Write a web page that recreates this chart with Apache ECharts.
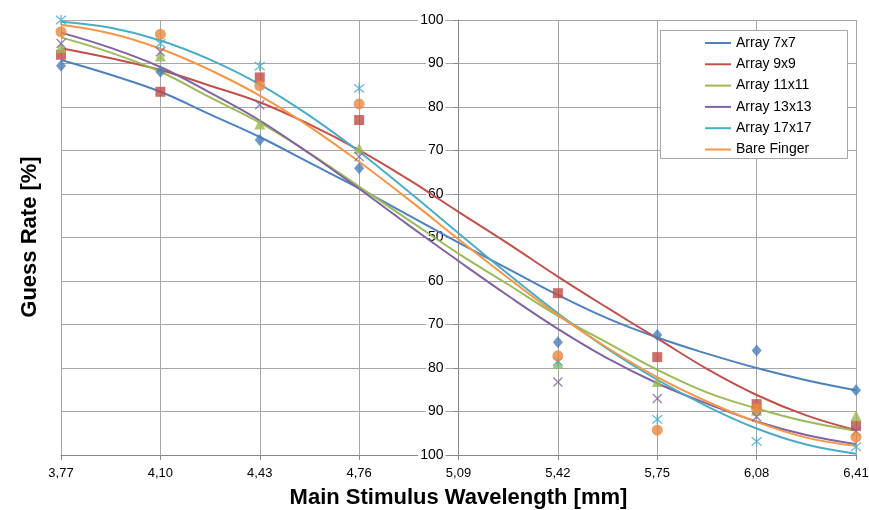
<!DOCTYPE html>
<html>
<head>
<meta charset="utf-8">
<script src="https://cdn.jsdelivr.net/npm/echarts@6/dist/echarts.min.js"></script>
<style>
  html, body { margin: 0; padding: 0; background: #fff; }
  #chart { width: 869px; height: 510px; }
</style>
</head>
<body>
<div id="chart"></div>
<script>
// wavelength ticks (x) and guess rate ticks (y, mirrored around 50)
var xTickLabels = ['3,77', '4,10', '4,43', '4,76', '5,09', '5,42', '5,75', '6,08', '6,41'];
var yTickLabels = ['100', '90', '80', '70', '60', '50', '60', '70', '80', '90', '100'];
var names = ['Array 7x7', 'Array 9x9', 'Array 11x11', 'Array 13x13', 'Array 17x17', 'Bare Finger'];
var colors = ['#4F81BD', '#C0504D', '#9BBB59', '#8064A2', '#4BACC6', '#F79646'];
var markerColors = ['#4A7EBB', '#BE4B48', '#98B954', '#7D60A0', '#46AAC5', '#E8883E'];

// measured points, one per wavelength tick (nothing measured at 5,09)
var pts7 = [89.5, 88.1, 72.4, 65.9, null, 25.9, 27.6, 24.0, 14.9];
var pts9 = [92.0, 83.5, 86.8, 77.0, null, 37.2, 22.5, 11.7, 6.7];
var pts11 = [93.7, 91.7, 76.1, 70.5, null, 21.1, 16.9, 10.3, 9.0];
var pts13 = [94.6, 92.7, 80.5, 68.6, null, 16.8, 13.0, 8.8, 5.4];
var pts17 = [100, 94.6, 89.4, 84.3, null, 21.5, 8.2, 3.1, 1.9];
var ptsBare = [97.3, 96.7, 84.9, 80.7, null, 22.8, 5.7, 10.7, 4.1];

// fitted curves, read every half tick
var fit7 = [90.8, 87.4, 83.5, 78.3, 73.1, 67.2, 61.3, 55.1, 48.8, 42.8, 36.8, 31.4, 27.0, 23.3, 20.0, 17.2, 14.9];
var fit9 = [93.5, 91.2, 88.5, 84.9, 81.1, 76.0, 70.1, 63.3, 55.9, 48.6, 41.0, 33.8, 26.8, 19.8, 13.8, 9.1, 5.7];
var fit11 = [96.0, 92.5, 88.1, 82.2, 76.4, 69.4, 61.7, 54.0, 46.3, 39.2, 32.0, 25.8, 19.6, 14.4, 10.7, 7.7, 5.6];
var fit13 = [97.1, 93.6, 89.2, 83.3, 76.9, 69.3, 61.2, 52.8, 44.6, 36.6, 29.0, 22.2, 16.5, 11.8, 7.7, 4.6, 2.5];
var fit17 = [99.6, 98.2, 95.3, 90.9, 85.2, 78.0, 69.7, 60.5, 51.0, 41.6, 32.6, 24.4, 17.3, 11.2, 6.1, 2.4, 0.3];
var fitBare = [98.9, 96.9, 93.4, 88.5, 82.6, 75.5, 67.4, 58.7, 49.6, 40.7, 32.2, 24.6, 17.9, 12.3, 7.6, 4.0, 2.1];

var allPts = [pts7, pts9, pts11, pts13, pts17, ptsBare];
var allFits = [fit7, fit9, fit11, fit13, fit17, fitBare];
var symbols = [
  'diamond', 'rect', 'triangle',
  'path://M0,0L10,10M10,0L0,10',
  'path://M0,0L10,10M10,0L0,10M5,-1L5,11',
  'circle'
];
var sizes = [[10, 12], 10, 11, 9, 10, 11];

// x runs in tick steps from 3,77
var series = [];
for (var s = 0; s < names.length; s++) {
  series.push({
    name: names[s],
    type: 'line',
    smooth: 0.4,
    symbol: 'none',
    color: colors[s],
    lineStyle: { width: 2, color: colors[s] },
    data: allFits[s].map(function (v, i) { return [i * 0.5, v]; })
  });
}
for (var s = 0; s < names.length; s++) {
  var isLine = s === 3 || s === 4;
  var d = [];
  for (var i = 0; i < allPts[s].length; i++) {
    if (allPts[s][i] != null) d.push([i, allPts[s][i]]);
  }
  series.push({
    name: names[s] + ' data',
    type: 'scatter',
    symbol: symbols[s],
    symbolSize: sizes[s],
    itemStyle: isLine
      ? { color: 'rgba(0,0,0,0)', borderColor: markerColors[s], borderWidth: 1.3 }
      : { color: markerColors[s] },
    data: d,
    z: 3
  });
}

var chartDom = document.getElementById('chart');
var myChart = echarts.init(chartDom);
var option;

option = {
  backgroundColor: '#fff',
  animation: false,
  textStyle: { fontFamily: 'Liberation Sans' },
  grid: { left: 61, right: 13, top: 20, bottom: 55, outerBoundsMode: 'none', containLabel: false },
  legend: {
    data: names,
    orient: 'vertical',
    left: 700,
    top: 30,
    icon: 'rect',
    itemWidth: 26,
    itemHeight: 2,
    itemGap: 5.3,
    textStyle: { fontSize: 14, color: '#000', lineHeight: 16 },
    z: 6
  },
  graphic: [
    {
      type: 'rect', z: 5,
      shape: { x: 660.5, y: 30.5, width: 187, height: 128 },
      style: { fill: '#fff', stroke: '#a6a6a6', lineWidth: 1 }
    },
    {
      type: 'text', x: 30, y: 237, rotation: Math.PI / 2,
      style: {
        text: 'Guess Rate [%]', fontSize: 22, fontWeight: 'bold',
        fontFamily: 'Liberation Sans', fill: '#000', align: 'center', verticalAlign: 'middle'
      }
    }
  ],
  xAxis: {
    type: 'value',
    min: 0,
    max: 8,
    interval: 1,
    name: 'Main Stimulus Wavelength [mm]',
    nameLocation: 'middle',
    nameGap: 32,
    nameTextStyle: { fontSize: 22, fontWeight: 'bold', color: '#000' },
    axisLine: { lineStyle: { color: '#888' } },
    axisTick: { lineStyle: { color: '#888' }, length: 5 },
    axisLabel: {
      fontSize: 13, color: '#000', margin: 12,
      formatter: function (v) { return xTickLabels[Math.round(v)]; }
    },
    splitLine: { show: true, lineStyle: { color: '#a6a6a6', width: 1 } }
  },
  yAxis: {
    type: 'value',
    min: 0,
    max: 100,
    interval: 10,
    position: 'left',
    offset: -397.5, // moves the axis to 5,09
    axisLine: { show: true, onZero: false, lineStyle: { color: '#888' } },
    axisTick: { show: true, lineStyle: { color: '#888' }, length: 5 },
    axisLabel: {
      fontSize: 14, color: '#000', margin: 13,
      backgroundColor: '#fff', padding: [0, 2],
      formatter: function (v) { return yTickLabels[Math.round(v / 10)]; }
    },
    splitLine: { show: true, lineStyle: { color: '#a6a6a6', width: 1 } }
  },
  series: series
};

option && myChart.setOption(option);
</script>
</body>
</html>
